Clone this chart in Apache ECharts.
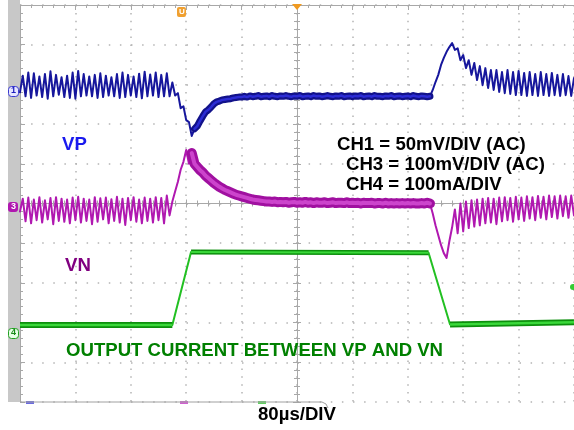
<!DOCTYPE html>
<html>
<head>
<meta charset="utf-8">
<script src="https://cdn.jsdelivr.net/npm/echarts@6/dist/echarts.min.js"></script>
<style>
  html, body { margin: 0; padding: 0; background: #fff; }
  #scope { width: 574px; height: 430px; }
</style>
</head>
<body>
<div id="scope"></div>
<script>
// sample clock of the scope: one point every 4 µs, starting at -400 µs
const t0 = -400;
const dt = 4;

// CH1 (VP), screen divisions
const ch1 = [
  2.80, 3.22, 2.70, 3.30, 2.66, 3.28, 2.72, 3.20, 2.68, 3.26,
  2.64, 3.33, 2.70, 3.24, 2.74, 3.18, 2.68, 3.22, 2.66, 3.30,
  2.64, 3.34, 2.70, 3.26, 2.72, 3.20, 2.70, 3.24, 2.66, 3.28,
  2.68, 3.22, 2.72, 3.18, 2.70, 3.26, 2.66, 3.30, 2.68, 3.24,
  2.72, 3.20, 2.68, 3.27, 2.65, 3.32, 2.70, 3.25, 2.72, 3.30,
  2.68, 3.24, 2.70, 3.28, 2.70, 3.05, 2.72, 2.78, 2.40, 2.45,
  2.10, 2.05, 1.70, 1.88, 1.95, 2.08, 2.20, 2.31, 2.36, 2.43,
  2.51, 2.56, 2.58, 2.61, 2.62, 2.63, 2.64, 2.66, 2.67, 2.68,
  2.68, 2.70, 2.68, 2.71, 2.69, 2.70, 2.72, 2.69, 2.70, 2.71,
  2.69, 2.72, 2.70, 2.69, 2.71, 2.70, 2.72, 2.70, 2.69, 2.71,
  2.70, 2.72, 2.69, 2.70, 2.71, 2.69, 2.72, 2.70, 2.71, 2.69,
  2.70, 2.72, 2.70, 2.69, 2.71, 2.70, 2.72, 2.69, 2.70, 2.71,
  2.69, 2.71, 2.70, 2.72, 2.69, 2.70, 2.71, 2.69, 2.72, 2.70,
  2.70, 2.69, 2.71, 2.70, 2.72, 2.69, 2.70, 2.71, 2.69, 2.70,
  2.71, 2.69, 2.72, 2.70, 2.69, 2.71, 2.70, 2.69, 2.70, 2.86,
  3.06, 3.24, 3.49, 3.67, 3.82, 3.94, 4.04, 3.87, 3.91, 3.61,
  3.74, 3.41, 3.61, 3.24, 3.54, 3.11, 3.46, 2.98, 3.41, 2.91,
  3.36, 2.86, 3.36, 2.81, 3.31, 2.78, 3.36, 2.76, 3.31, 2.73,
  3.34, 2.73, 3.29, 2.71, 3.31, 2.73, 3.26, 2.71, 3.31, 2.73,
  3.26, 2.71, 3.29, 2.73, 3.24, 2.71, 3.26, 2.73, 3.21, 2.71,
  3.16
];

// CH3 (VN), screen divisions
const ch3 = [
  -0.20, 0.12, -0.45, 0.15, -0.50, 0.10, -0.42, 0.16, -0.48, 0.08,
  -0.40, 0.14, -0.52, 0.16, -0.44, 0.12, -0.46, 0.10, -0.50, 0.15,
  -0.42, 0.17, -0.48, 0.12, -0.44, 0.10, -0.52, 0.16, -0.46, 0.13,
  -0.40, 0.15, -0.50, 0.11, -0.44, 0.17, -0.48, 0.12, -0.54, 0.14,
  -0.42, 0.16, -0.46, 0.10, -0.50, 0.15, -0.44, 0.12, -0.48, 0.16,
  -0.42, 0.14, -0.50, 0.20, -0.30, 0.05, 0.30, 0.55, 0.85, 1.05,
  1.35, 1.00, 1.27, 1.00, 0.92, 0.84, 0.78, 0.70, 0.64, 0.58,
  0.52, 0.47, 0.42, 0.38, 0.34, 0.31, 0.28, 0.25, 0.22, 0.20,
  0.18, 0.16, 0.14, 0.12, 0.10, 0.09, 0.08, 0.07, 0.06, 0.05,
  0.05, 0.04, 0.05, 0.03, 0.04, 0.03, 0.04, 0.02, 0.03, 0.04,
  0.02, 0.03, 0.02, 0.04, 0.02, 0.03, 0.01, 0.03, 0.02, 0.02,
  0.03, 0.01, 0.02, 0.03, 0.01, 0.02, 0.02, 0.01, 0.03, 0.01,
  0.02, 0.01, 0.02, 0.00, 0.02, 0.01, 0.01, 0.02, 0.00, 0.01,
  0.01, 0.00, 0.02, 0.00, 0.01, 0.00, 0.01, 0.00, 0.01, 0.00,
  0.01, 0.00, 0.01, 0.00, 0.00, 0.01, 0.00, 0.02, 0.00, -0.25,
  -0.55, -0.80, -1.05, -1.25, -1.37, -0.95, -0.60, -0.15, -0.75, 0.00,
  -0.70, 0.05, -0.62, 0.08, -0.58, 0.10, -0.55, 0.12, -0.50, 0.14,
  -0.48, 0.12, -0.52, 0.15, -0.45, 0.16, -0.42, 0.14, -0.46, 0.17,
  -0.40, 0.15, -0.44, 0.18, -0.38, 0.16, -0.42, 0.19, -0.36, 0.17,
  -0.40, 0.20, -0.34, 0.18, -0.38, 0.20, -0.32, 0.18, -0.36, 0.20,
  -0.30
];

// CH4 output current, corner points (µs, screen divisions)
const ch4Time = [-400, -180, -153, 190, 221, 400];
const ch4Vals = [-3.06, -3.06, -1.22, -1.24, -3.05, -2.99];

const ch1Pts = ch1.map((v, i) => [t0 + i * dt, v]);
const ch3Pts = ch3.map((v, i) => [t0 + i * dt, v]);
const ch4Pts = ch4Time.map((t, i) => [t, ch4Vals[i]]);

const FONT = '"Liberation Sans", Arial, sans-serif';
const LABEL = 'bold 18.6px ' + FONT;
const gridGray = '#a8a8a8';

function line(data, color, width, z, cap) {
  return {
    type: 'line', data: data, symbol: 'none', z: z, animation: false,
    lineStyle: { color: color, width: width, cap: cap || 'round', join: 'round' }
  };
}

const chart = echarts.init(document.getElementById('scope'));

const borderAxis = {
  min: -400, max: 400, interval: 80,
  axisLabel: { show: false },
  axisLine: { onZero: false, lineStyle: { color: gridGray } },
  axisTick: { inside: true, length: 5, lineStyle: { color: gridGray } },
  minorTick: { show: true, splitNumber: 5, length: 3, lineStyle: { color: gridGray } }
};
const centerAxis = {
  axisLabel: { show: false },
  axisLine: { onZero: true, lineStyle: { color: gridGray } },
  axisTick: { inside: true, length: 4, lineStyle: { color: gridGray } },
  minorTick: { show: true, splitNumber: 5, length: 3, lineStyle: { color: gridGray } },
  splitLine: { show: false }
};

chart.setOption({
  backgroundColor: '#fff',
  animation: false,
  grid: { left: 20, right: 0, top: 5, bottom: 28 },
  xAxis: [
    Object.assign({}, borderAxis, {
      type: 'value', position: 'top',
      splitLine: { show: true, lineStyle: { color: '#b4b4b4', width: 1.5, type: [1.5, 6.4] } }
    }),
    Object.assign({}, centerAxis, { type: 'value', position: 'bottom', min: -400, max: 400, interval: 80 }),
    Object.assign({}, centerAxis, { type: 'value', position: 'top', min: -400, max: 400, interval: 80 })
  ],
  yAxis: [
    Object.assign({}, borderAxis, {
      type: 'value', position: 'left', min: -5, max: 5, interval: 1,
      splitLine: { show: true, lineStyle: { color: '#b4b4b4', width: 1.5, type: [1.5, 9.6] } }
    }),
    Object.assign({}, centerAxis, { type: 'value', position: 'left', min: -5, max: 5, interval: 1 }),
    Object.assign({}, centerAxis, { type: 'value', position: 'right', min: -5, max: 5, interval: 1 })
  ],
  series: [
    line(ch4Pts, '#22c022', 2, 2, 'butt'),
    line(ch4Pts.slice(0, 2), '#0c8f0c', 6, 3, 'butt'),
    line(ch4Pts.slice(2, 4), '#0c8f0c', 5, 3, 'butt'),
    line(ch4Pts.slice(4, 6), '#0c8f0c', 6, 3, 'butt'),
    line(ch4Pts.slice(0, 2), '#3ad83a', 2.5, 4, 'butt'),
    line(ch4Pts.slice(2, 4), '#3ad83a', 2, 4, 'butt'),
    line(ch4Pts.slice(4, 6), '#3ad83a', 2.5, 4, 'butt'),

    line(ch3Pts, '#b018b0', 2, 5),
    line(ch3Pts.slice(62, 149), '#a010a0', 10, 6),
    line(ch3Pts.slice(62, 149), '#cc44cc', 4, 7),

    line(ch1Pts, '#16169c', 2, 8),
    line(ch1Pts.slice(63, 149), '#12128a', 7, 9),
    line(ch1Pts.slice(63, 149), '#2c2cd4', 2.5, 10)
  ],
  graphic: [
    { type: 'rect', left: 8, top: 0, shape: { width: 12, height: 402 }, style: { fill: '#c8c8c8' }, z: 1 },
    // channel markers
    { type: 'rect', left: 8, top: 86, shape: { width: 10, height: 10, r: 3 }, style: { fill: '#e6e6ff', stroke: '#3a3ad0', lineWidth: 1 }, z: 20 },
    { type: 'text', left: 11, top: 86, style: { text: '1', fill: '#2020c0', font: 'bold 9px ' + FONT }, z: 21 },
    { type: 'rect', left: 8, top: 202, shape: { width: 10, height: 10, r: 3 }, style: { fill: '#b018b0' }, z: 20 },
    { type: 'text', left: 11, top: 202, style: { text: '3', fill: '#fff', font: 'bold 9px ' + FONT }, z: 21 },
    { type: 'rect', left: 8, top: 328, shape: { width: 10, height: 10, r: 3 }, style: { fill: '#e6ffe6', stroke: '#22a022', lineWidth: 1 }, z: 20 },
    { type: 'text', left: 11, top: 328, style: { text: '4', fill: '#1a8a1a', font: 'bold 9px ' + FONT }, z: 21 },
    // cursor and trigger markers
    { type: 'rect', left: 177, top: 7, shape: { width: 9, height: 10, r: 2 }, style: { fill: '#f0a030' }, z: 20 },
    { type: 'text', left: 179, top: 8, style: { text: 'U', fill: '#fff', font: 'bold 8px ' + FONT }, z: 21 },
    { type: 'polygon', shape: { points: [[292, 4], [302, 4], [297, 10]] }, style: { fill: '#f09a20' }, z: 20 },
    { type: 'circle', shape: { cx: 573, cy: 287, r: 3 }, style: { fill: '#33cc33' }, z: 20 },
    // bottom ground markers and border tab
    { type: 'rect', left: 26, top: 401, shape: { width: 8, height: 3 }, style: { fill: '#6a6ae0' }, z: 20 },
    { type: 'rect', left: 180, top: 401, shape: { width: 8, height: 3 }, style: { fill: '#d060d0' }, z: 20 },
    { type: 'rect', left: 258, top: 401, shape: { width: 8, height: 3 }, style: { fill: '#60d060' }, z: 20 },
    { type: 'polyline', shape: { points: [[20, 402], [322, 402], [326, 404], [328, 408]] }, style: { stroke: '#a0a0a0', lineWidth: 1, fill: null }, z: 20 },
    // labels
    { type: 'text', left: 62, top: 135, style: { text: 'VP', fill: '#1a1aee', font: LABEL }, z: 30 },
    { type: 'text', left: 65, top: 256, style: { text: 'VN', fill: '#800080', font: LABEL }, z: 30 },
    { type: 'text', left: 337, top: 135, style: { text: 'CH1 = 50mV/DIV (AC)', fill: '#000', font: LABEL }, z: 30 },
    { type: 'text', left: 346, top: 155, style: { text: 'CH3 = 100mV/DIV (AC)', fill: '#000', font: LABEL }, z: 30 },
    { type: 'text', left: 346, top: 175, style: { text: 'CH4 = 100mA/DIV', fill: '#000', font: LABEL }, z: 30 },
    { type: 'text', left: 66, top: 341, style: { text: 'OUTPUT CURRENT BETWEEN VP AND VN', fill: '#008000', font: LABEL }, z: 30 },
    { type: 'text', left: 258, top: 405, style: { text: '80µs/DIV', fill: '#000', font: LABEL }, z: 30 }
  ]
});
</script>
</body>
</html>
